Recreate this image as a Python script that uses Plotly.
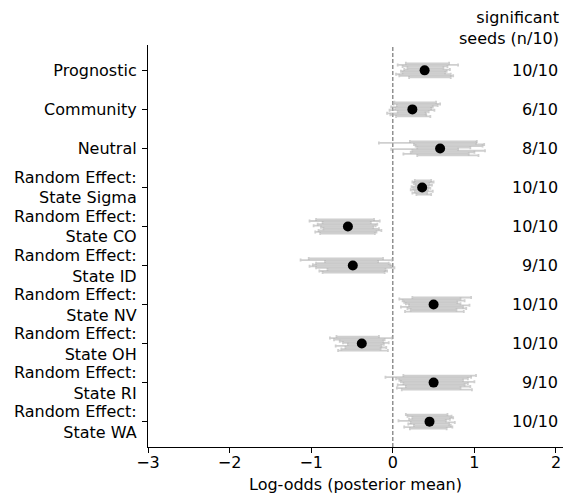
import plotly.graph_objects as go
import numpy as np

labels = ["Prognostic", "Community", "Neutral",
          "Random Effect:<br>State Sigma", "Random Effect:<br>State CO",
          "Random Effect:<br>State ID", "Random Effect:<br>State NV",
          "Random Effect:<br>State OH", "Random Effect:<br>State RI",
          "Random Effect:<br>State WA"]

pooled_mean = [0.39, 0.24, 0.58, 0.36, -0.55, -0.49, 0.50, -0.38, 0.50, 0.45]
significant = ["10/10", "6/10", "8/10", "10/10", "10/10", "9/10", "10/10", "10/10", "9/10", "10/10"]

# per-seed 95% interval lower / upper bounds (10 seeds per effect)
seed_lo = [
    [0.16, 0.06, 0.12, 0.18, 0.14, 0.10, 0.12, 0.04, 0.08, 0.20],
    [0.02, 0.01, 0.05, -0.02, 0.03, -0.04, 0.06, -0.07, -0.03, 0.04],
    [0.21, -0.17, 0.26, 0.28, 0.30, -0.02, 0.24, 0.22, 0.13, 0.30],
    [0.27, 0.24, 0.26, 0.28, 0.23, 0.25, 0.22, 0.27, 0.24, 0.29],
    [-0.94, -1.02, -0.86, -0.92, -0.97, -0.88, -0.85, -0.91, -0.95, -0.89],
    [-1.03, -1.13, -0.83, -0.94, -0.98, -1.02, -0.94, -0.80, -0.90, -0.86],
    [0.24, 0.08, 0.12, 0.14, 0.16, 0.20, 0.10, 0.18, 0.22, 0.15],
    [-0.69, -0.77, -0.72, -0.65, -0.61, -0.55, -0.70, -0.58, -0.63, -0.67],
    [0.13, -0.09, 0.04, 0.08, 0.10, 0.13, 0.06, 0.16, 0.05, 0.11],
    [0.16, 0.18, 0.24, 0.20, 0.07, 0.22, 0.19, 0.26, 0.14, 0.21],
]
seed_hi = [
    [0.69, 0.80, 0.67, 0.62, 0.70, 0.66, 0.64, 0.71, 0.74, 0.71],
    [0.53, 0.58, 0.55, 0.49, 0.47, 0.51, 0.44, 0.40, 0.41, 0.46],
    [1.03, 1.02, 1.12, 1.10, 0.95, 0.80, 1.13, 1.00, 0.93, 1.05],
    [0.47, 0.50, 0.45, 0.48, 0.44, 0.46, 0.43, 0.49, 0.42, 0.47],
    [-0.23, -0.16, -0.27, -0.19, -0.21, -0.24, -0.17, -0.14, -0.20, -0.22],
    [-0.12, -0.01, -0.18, -0.05, -0.03, -0.02, 0.02, -0.09, -0.07, -0.10],
    [0.96, 0.83, 0.88, 0.79, 0.83, 0.94, 0.86, 0.90, 0.78, 0.87],
    [-0.17, -0.01, -0.10, -0.12, -0.05, -0.11, -0.14, -0.08, -0.15, -0.06],
    [1.02, 0.96, 0.92, 0.86, 1.00, 0.92, 0.88, 0.95, 0.83, 0.97],
    [0.67, 0.72, 0.74, 0.70, 0.65, 0.76, 0.69, 0.71, 0.73, 0.66],
]

xticks = [-3, -2, -1, 0, 1, 2]

FONT = "DejaVu Sans"
fig = go.Figure()

n_seeds = len(seed_lo[0])
offsets = np.linspace(-0.18, 0.18, n_seeds)
for i in range(len(labels)):
    lo = np.array(seed_lo[i])
    hi = np.array(seed_hi[i])
    c = (lo + hi) / 2
    fig.add_trace(go.Scatter(
        x=c, y=i + offsets, mode="markers",
        marker=dict(size=1, color="rgba(0,0,0,0)"),
        error_x=dict(type="data", symmetric=False, array=hi - c, arrayminus=c - lo,
                     color="rgba(175,175,175,0.6)", thickness=1.8, width=1.5),
        showlegend=False, hoverinfo="skip"))

fig.add_trace(go.Scatter(
    x=pooled_mean, y=list(range(len(labels))), mode="markers",
    marker=dict(size=10, color="black"), showlegend=False))

fig.add_shape(type="line", x0=0, x1=0, xref="x", y0=0, y1=1, yref="paper",
              line=dict(color="#808080", width=1.3, dash="4px,2px"), layer="below")

for i, s in enumerate(significant):
    fig.add_annotation(x=0.992, xref="paper", y=i, yref="y", text=s,
                       showarrow=False, xanchor="right", yanchor="middle",
                       font=dict(family=FONT, size=16, color="black"))

fig.add_annotation(x=0.995, xref="paper", y=1.043, yref="paper",
                   text="significant<br>seeds (n/10)", showarrow=False,
                   xanchor="right", yanchor="middle", align="right",
                   font=dict(family=FONT, size=16, color="black"))

fig.add_annotation(x=0.5, xref="paper", y=-0.093, yref="paper",
                   text="Log-odds (posterior mean)", showarrow=False,
                   xanchor="center", yanchor="middle",
                   font=dict(family=FONT, size=16, color="black"))

fig.update_layout(
    width=571, height=495,
    margin=dict(l=148, r=8, t=45, b=48),
    plot_bgcolor="white", paper_bgcolor="white",
    font=dict(family=FONT, size=16, color="black"),
    xaxis=dict(range=[-3, 2.086], tickvals=xticks, showgrid=False, zeroline=False,
               showline=True, linecolor="black", linewidth=1.2, automargin=False,
               ticks="outside", ticklen=5, tickwidth=1.2, tickcolor="black",
               ticklabelstandoff=-4),
    yaxis=dict(range=[9.65, -0.65], tickvals=list(range(len(labels))), ticktext=labels,
               showgrid=False, zeroline=False, automargin=False,
               showline=True, linecolor="black", linewidth=1.2,
               ticks="outside", ticklen=5, tickwidth=1.2, tickcolor="black",
               ticklabelstandoff=2),
)

fig.write_html("out.html", config={"displayModeBar": False},
               post_script="document.body.style.margin='0';document.body.style.padding='0';")
